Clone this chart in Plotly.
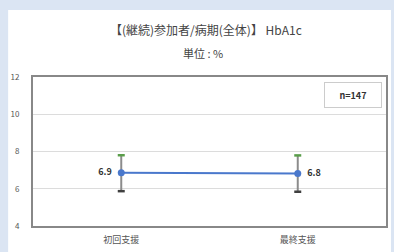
import plotly.graph_objects as go

categories = ["初回支援", "最終支援"]
means = [6.86, 6.82]
upper = [7.80, 7.79]
lower = [5.87, 5.84]
labels = ["6.9", "6.8"]
n_text = "n=147"
title_text = "【(継続)参加者/病期(全体)】 HbA1c"
subtitle_text = "単位 : %"
y_ticks = [4, 6, 8, 10, 12]

FONT = "Noto Sans CJK JP"

fig = go.Figure()

# error bar vertical lines
fig.add_trace(go.Scatter(
    x=categories, y=means, mode="markers",
    marker=dict(size=1, color="rgba(0,0,0,0)"),
    error_y=dict(type="data", symmetric=False,
                 array=[u - m for u, m in zip(upper, means)],
                 arrayminus=[m - l for m, l in zip(means, lower)],
                 color="#8c8c8c", thickness=2, width=0),
    showlegend=False, hoverinfo="skip"))

# caps
fig.add_trace(go.Scatter(
    x=categories, y=upper, mode="markers",
    marker=dict(symbol="line-ew-open", size=5, color="#5a9e4a",
                line=dict(color="#5a9e4a", width=2.5)),
    showlegend=False, hoverinfo="skip"))
fig.add_trace(go.Scatter(
    x=categories, y=lower, mode="markers",
    marker=dict(symbol="line-ew-open", size=5, color="#404040",
                line=dict(color="#404040", width=2.5)),
    showlegend=False, hoverinfo="skip"))

# main line
fig.add_trace(go.Scatter(
    x=categories, y=means, mode="lines+markers+text",
    line=dict(color="#4a78cc", width=2),
    marker=dict(color="#4a78cc", size=7),
    text=["%s  " % labels[0], "  %s" % labels[1]],
    textposition=["middle left", "middle right"],
    textfont=dict(family=FONT, size=9, color="#333333", weight="bold"),
    showlegend=False, hoverinfo="skip"))

# white panel
fig.add_shape(type="rect", xref="paper", yref="paper",
              x0=(8 - 33) / 355, x1=(393 - 33) / 355,
              y0=(226 - 260) / 149, y1=(226 - 10) / 149,
              fillcolor="white", line=dict(width=0), layer="below")

# n box
fig.add_annotation(xref="paper", yref="paper", x=(355 - 33) / 355, y=(226 - 95) / 149,
                   xanchor="center", yanchor="middle",
                   text=n_text, showarrow=False,
                   font=dict(family=FONT, size=9, color="#333333", weight="bold"),
                   bordercolor="#cccccc", borderwidth=1, borderpad=3, bgcolor="white",
                   width=50, height=18)

fig.add_annotation(xref="paper", yref="paper", x=(207 - 33) / 355, y=(226 - 29) / 149,
                   xanchor="center", yanchor="middle",
                   text=title_text, showarrow=False,
                   font=dict(family=FONT, size=12, color="#444444"))
fig.add_annotation(xref="paper", yref="paper", x=(204 - 33) / 355, y=(226 - 53) / 149,
                   xanchor="center", yanchor="middle",
                   text=subtitle_text, showarrow=False,
                   font=dict(family=FONT, size=11, color="#444444"))

fig.update_layout(
    width=394, height=252,
    margin=dict(l=33, r=6, t=77, b=26),
    paper_bgcolor="#dbe5f3",
    plot_bgcolor="white",
    font=dict(family=FONT),
    xaxis=dict(range=[-0.5, 1.5], showgrid=False, showline=True, linecolor="#888888",
               linewidth=2, mirror=True, ticks="outside", ticklen=4,
               tickcolor="rgba(0,0,0,0)", tickfont=dict(size=9, color="#555555"),
               zeroline=False),
    yaxis=dict(range=[4, 12], tickvals=y_ticks, showgrid=True, gridcolor="#dcdcdc",
               gridwidth=1, showline=True, linecolor="#888888", linewidth=2,
               mirror=True, ticks="outside", ticklen=10, tickcolor="rgba(0,0,0,0)",
               tickfont=dict(size=8, color="#555555"), zeroline=False),
)

fig.write_html("out.html", config={"displayModeBar": False},
               post_script="document.body.style.margin='0';")
